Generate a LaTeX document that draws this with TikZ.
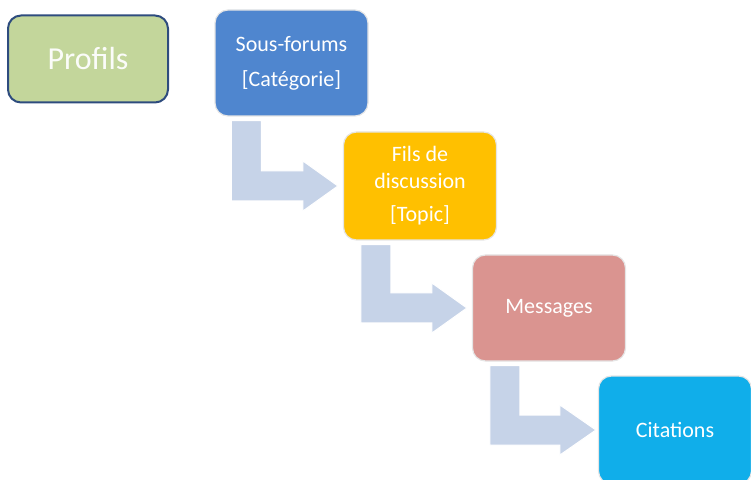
\documentclass[tikz,border=0pt]{standalone}
\usepackage{fontspec}
\setmainfont{Carlito}
\usepackage{tikz}
\usetikzlibrary{calc}

\definecolor{profgreen}{HTML}{C3D69B}
\definecolor{profline}{HTML}{2E4C7E}
\definecolor{forumblue}{HTML}{4F86CF}
\definecolor{topicgold}{HTML}{FFC000}
\definecolor{msgred}{HTML}{DA9490}
\definecolor{citecyan}{HTML}{10AEEA}
\definecolor{flowblue}{HTML}{C6D3E8}

\begin{document}
\begin{tikzpicture}[x=1pt,y=1pt]
\tikzset{box/.style = {shape=rectangle,rounded corners=13pt,minimum width=153pt,minimum height=106pt,
  draw=white!90!black,line width=1.2pt,text=white,align=center,font=\fontsize{22}{27}\selectfont}}
\tikzset{flow/.style = {fill=flowblue,draw=white,line width=1pt}}
\useasboundingbox (0,0) rectangle (751,479);
% boxes
\node[box,fill=profgreen,draw=profline,line width=2pt,minimum width=160pt,minimum height=87pt,
  text=white!94!profgreen,font=\fontsize{32}{38}\selectfont] (prof) at (88,420) {Profils};
\node[box,fill=forumblue] (forum) at (291.5,416) {Sous-forums\\[8pt][Catégorie]};
\node[box,fill=topicgold,minimum height=108pt] (topic) at (420,293) {Fils de\\discussion\\[6pt][Topic]};
\node[box,fill=msgred] (msg) at (549,171) {Messages};
\node[box,fill=citecyan,minimum height=108pt] (cite) at (675,49) {Citations};
% arrows
\path[flow] let \p1 = (forum.south west), \p2 = (topic.west) in
  (\x1+17pt,\y1-4pt) -- (\x1+47pt,\y1-4pt) -- (\x1+47pt,\y2+15pt) -- (\x2-40pt,\y2+15pt)
  -- (\x2-40pt,\y2+25pt) -- (\x2-5pt,\y2) -- (\x2-40pt,\y2-25pt) -- (\x2-40pt,\y2-15pt)
  -- (\x1+17pt,\y2-15pt) -- cycle;
\path[flow] let \p1 = (topic.south west), \p2 = (msg.west) in
  (\x1+18pt,\y1-4pt) -- (\x1+48pt,\y1-4pt) -- (\x1+48pt,\y2+15pt) -- (\x2-40pt,\y2+15pt)
  -- (\x2-40pt,\y2+25pt) -- (\x2-5pt,\y2) -- (\x2-40pt,\y2-25pt) -- (\x2-40pt,\y2-15pt)
  -- (\x1+18pt,\y2-15pt) -- cycle;
\path[flow] let \p1 = (msg.south west), \p2 = (cite.west) in
  (\x1+18pt,\y1-4pt) -- (\x1+48pt,\y1-4pt) -- (\x1+48pt,\y2+15pt) -- (\x2-38pt,\y2+15pt)
  -- (\x2-38pt,\y2+25pt) -- (\x2-2pt,\y2) -- (\x2-38pt,\y2-25pt) -- (\x2-38pt,\y2-15pt)
  -- (\x1+18pt,\y2-15pt) -- cycle;
\end{tikzpicture}
\end{document}
